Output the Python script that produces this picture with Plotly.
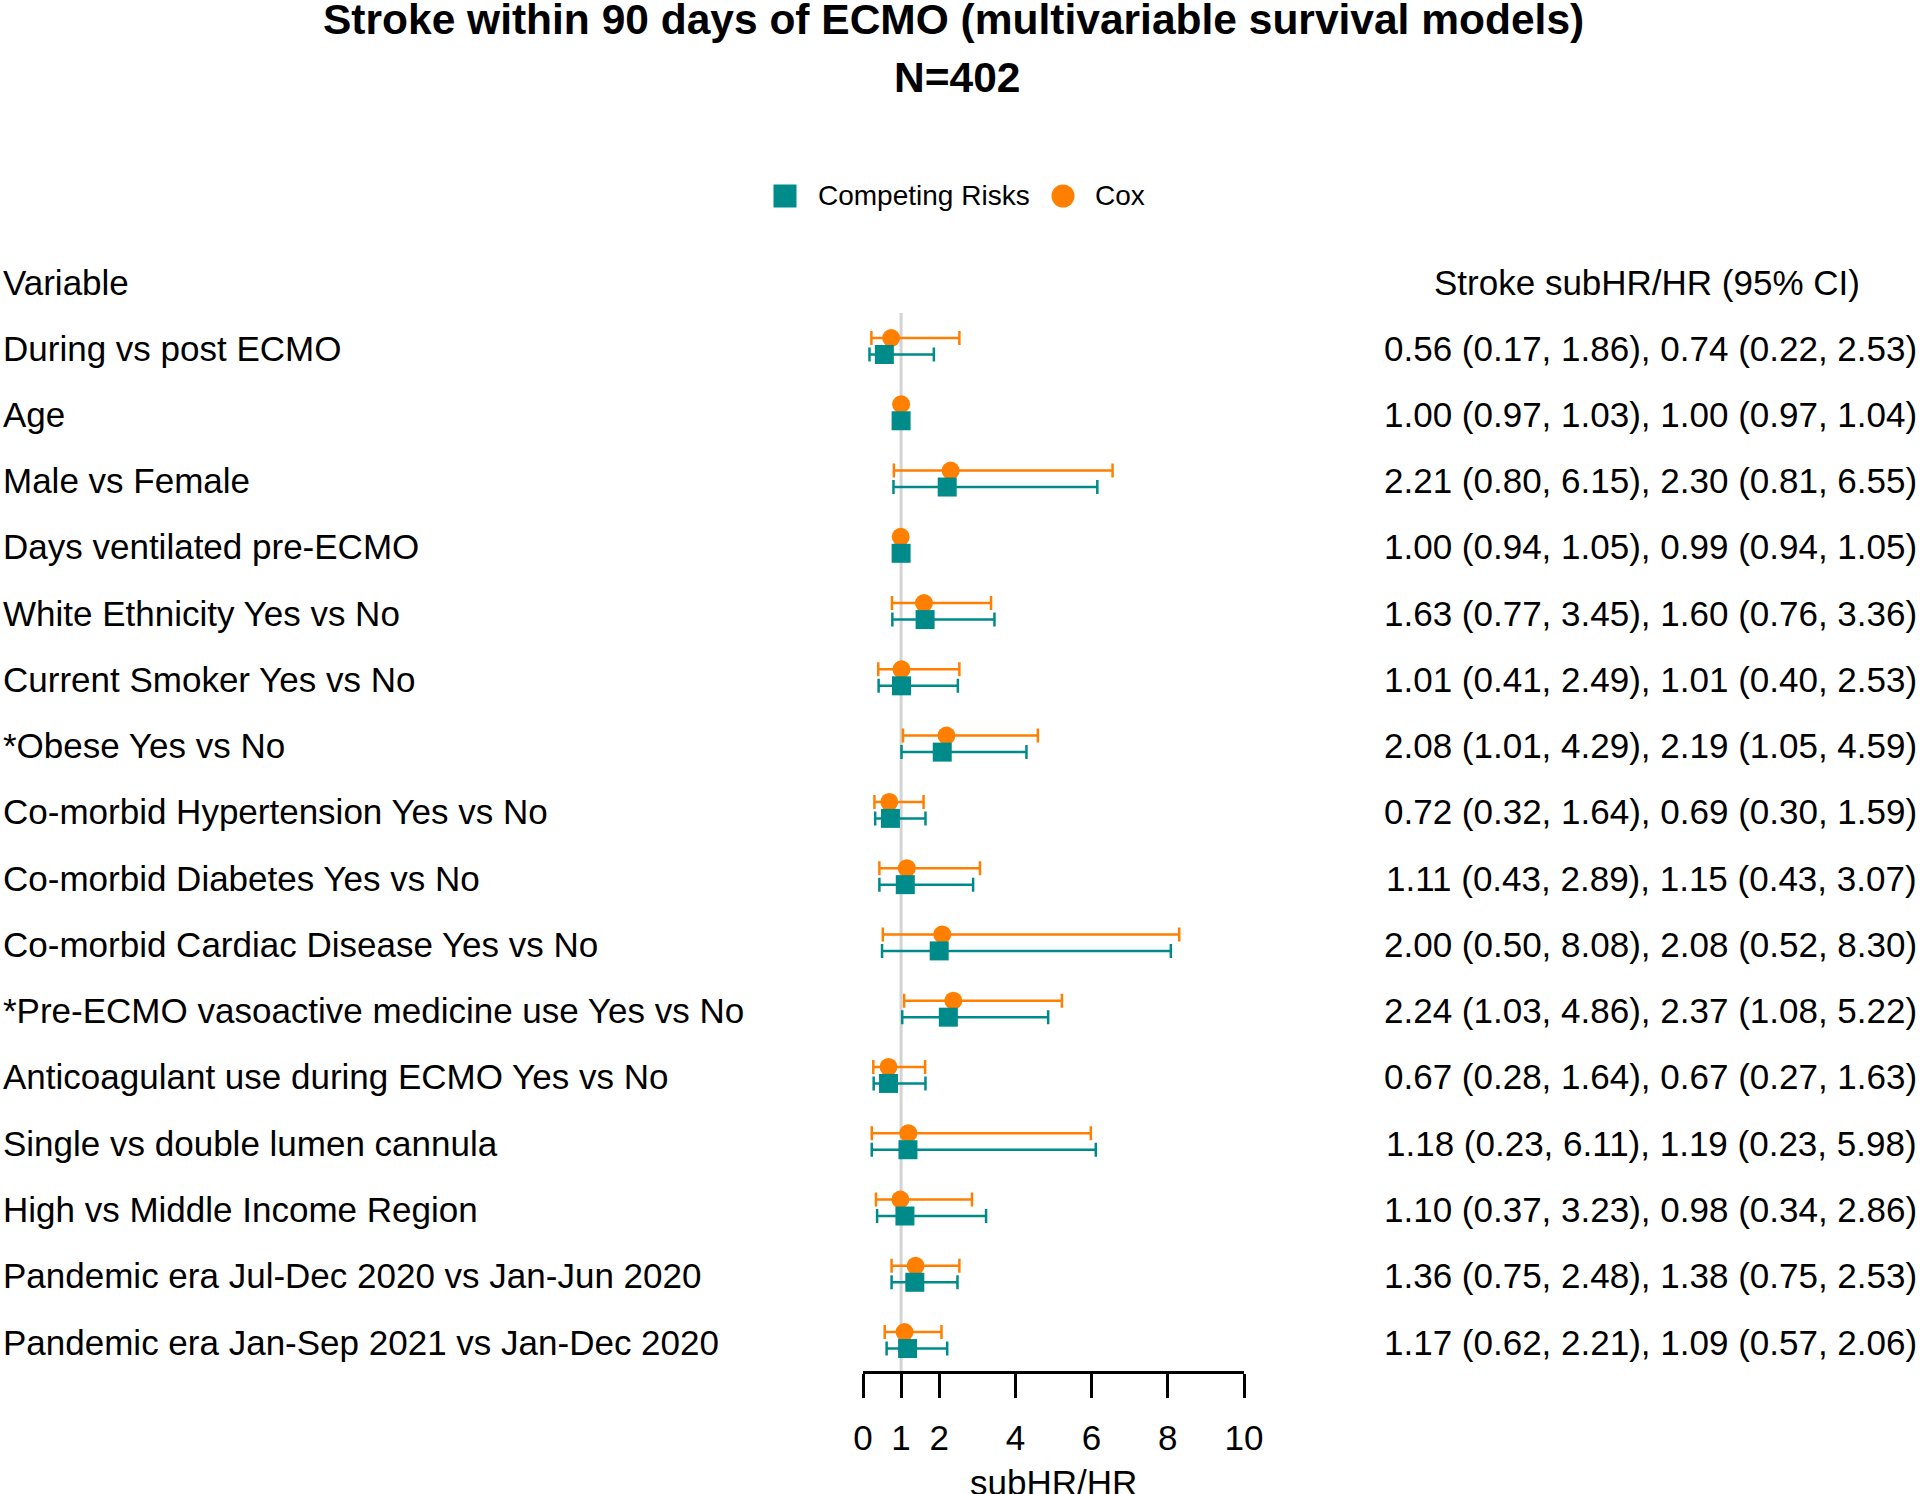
import plotly.graph_objects as go

variables = [
    "During vs post ECMO",
    "Age",
    "Male vs Female",
    "Days ventilated pre-ECMO",
    "White Ethnicity Yes vs No",
    "Current Smoker Yes vs No",
    "*Obese Yes vs No",
    "Co-morbid Hypertension Yes vs No",
    "Co-morbid Diabetes Yes vs No",
    "Co-morbid Cardiac Disease Yes vs No",
    "*Pre-ECMO vasoactive medicine use Yes vs No",
    "Anticoagulant use during ECMO Yes vs No",
    "Single vs double lumen cannula",
    "High vs Middle Income Region",
    "Pandemic era Jul-Dec 2020 vs Jan-Jun 2020",
    "Pandemic era Jan-Sep 2021 vs Jan-Dec 2020",
]

cr_hr = [0.56, 1.00, 2.21, 1.00, 1.63, 1.01, 2.08, 0.72, 1.11, 2.00, 2.24, 0.67, 1.18, 1.10, 1.36, 1.17]
cr_lo = [0.17, 0.97, 0.80, 0.94, 0.77, 0.41, 1.01, 0.32, 0.43, 0.50, 1.03, 0.28, 0.23, 0.37, 0.75, 0.62]
cr_hi = [1.86, 1.03, 6.15, 1.05, 3.45, 2.49, 4.29, 1.64, 2.89, 8.08, 4.86, 1.64, 6.11, 3.23, 2.48, 2.21]

cox_hr = [0.74, 1.00, 2.30, 0.99, 1.60, 1.01, 2.19, 0.69, 1.15, 2.08, 2.37, 0.67, 1.19, 0.98, 1.38, 1.09]
cox_lo = [0.22, 0.97, 0.81, 0.94, 0.76, 0.40, 1.05, 0.30, 0.43, 0.52, 1.08, 0.27, 0.23, 0.34, 0.75, 0.57]
cox_hi = [2.53, 1.04, 6.55, 1.05, 3.36, 2.53, 4.59, 1.59, 3.07, 8.30, 5.22, 1.63, 5.98, 2.86, 2.53, 2.06]

x_ticks = [0, 1, 2, 4, 6, 8, 10]

TEAL = "#008B8B"
ORANGE = "#FF7F00"
FONT = "Liberation Sans, Arial, sans-serif"

W, H = 1920, 1494
# plot area in pixel coordinates
L, R = 863, 1244
T, B = 313, 1371
ROW0, ROWSTEP = 348, 66.27
n = len(variables)


def px(xp):
    return (xp - L) / (R - L)


def py(yp):
    return (B - yp) / (B - T)


rows = list(range(n))
y_cox = [r - 0.151 for r in rows]
y_cr = [r + 0.098 for r in rows]

fig = go.Figure()

fig.add_trace(go.Scatter(
    x=cox_hr, y=y_cox, mode="markers", name="Cox",
    marker=dict(symbol="circle", size=18, color=ORANGE),
    error_x=dict(type="data", symmetric=False,
                 array=[h - m for h, m in zip(cox_hi, cox_hr)],
                 arrayminus=[m - lo for m, lo in zip(cox_hr, cox_lo)],
                 color=ORANGE, thickness=2.5, width=7),
    showlegend=False, cliponaxis=False,
))
fig.add_trace(go.Scatter(
    x=cr_hr, y=y_cr, mode="markers", name="Competing Risks",
    marker=dict(symbol="square", size=19, color=TEAL),
    error_x=dict(type="data", symmetric=False,
                 array=[h - m for h, m in zip(cr_hi, cr_hr)],
                 arrayminus=[m - lo for m, lo in zip(cr_hr, cr_lo)],
                 color=TEAL, thickness=2.5, width=7),
    showlegend=False, cliponaxis=False,
))

shapes = [
    dict(type="line", xref="x", yref="paper", x0=1, x1=1, y0=0, y1=1,
         line=dict(color="#D3D3D3", width=3), layer="below"),
    # manual legend markers
    dict(type="rect", xref="paper", yref="paper",
         x0=px(773.5), x1=px(796.5), y0=py(207.5), y1=py(184.5),
         fillcolor=TEAL, line=dict(width=0)),
    dict(type="circle", xref="paper", yref="paper",
         x0=px(1051.5), x1=px(1074.5), y0=py(207.5), y1=py(184.5),
         fillcolor=ORANGE, line=dict(width=0)),
]

annotations = []
for r, name in enumerate(variables):
    annotations.append(dict(
        text=name, xref="paper", yref="y", x=px(1), y=r,
        xanchor="left", yanchor="middle", showarrow=False,
        font=dict(family=FONT, size=35, color="black")))
    txt = (f"{cr_hr[r]:.2f} ({cr_lo[r]:.2f}, {cr_hi[r]:.2f}), "
           f"{cox_hr[r]:.2f} ({cox_lo[r]:.2f}, {cox_hi[r]:.2f})")
    annotations.append(dict(
        text=txt, xref="paper", yref="y", x=px(1919), y=r,
        xanchor="right", yanchor="middle", showarrow=False,
        font=dict(family=FONT, size=35, color="black")))

annotations += [
    dict(text="Variable", xref="paper", yref="paper", x=px(1), y=py(283),
         xanchor="left", yanchor="middle", showarrow=False,
         font=dict(family=FONT, size=35, color="black")),
    dict(text="Stroke subHR/HR (95% CI)", xref="paper", yref="paper",
         x=px(1647), y=py(283), xanchor="center", yanchor="middle", showarrow=False,
         font=dict(family=FONT, size=35, color="black")),
    dict(text="<b>Stroke within 90 days of ECMO (multivariable survival models)</b>",
         xref="paper", yref="paper", x=px(953), y=py(19),
         xanchor="center", yanchor="middle", showarrow=False,
         font=dict(family=FONT, size=42.5, color="black")),
    dict(text="<b>N=402</b>", xref="paper", yref="paper", x=px(957), y=py(77),
         xanchor="center", yanchor="middle", showarrow=False,
         font=dict(family=FONT, size=42.5, color="black")),
    dict(text="Competing Risks", xref="paper", yref="paper", x=px(816), y=py(196),
         xanchor="left", yanchor="middle", showarrow=False,
         font=dict(family=FONT, size=28, color="black")),
    dict(text="Cox", xref="paper", yref="paper", x=px(1093), y=py(196),
         xanchor="left", yanchor="middle", showarrow=False,
         font=dict(family=FONT, size=28, color="black")),
    # x-axis title
    dict(text="subHR/HR", xref="paper", yref="paper", x=0.5, y=py(1482),
         xanchor="center", yanchor="middle", showarrow=False,
         font=dict(family=FONT, size=35, color="black")),
]

fig.update_layout(
    width=W, height=H, autosize=False,
    margin=dict(l=L, r=W - R, t=T, b=H - B, pad=0, autoexpand=False),
    paper_bgcolor="white", plot_bgcolor="white",
    showlegend=False,
    shapes=shapes, annotations=annotations,
    font=dict(family=FONT, size=35, color="black"),
    xaxis=dict(
        range=[0, 10], tickmode="array", tickvals=x_ticks,
        ticktext=[str(t) for t in x_ticks],
        ticks="outside", ticklen=24, tickwidth=3, tickcolor="black",
        showline=True, linewidth=3, linecolor="black",
        showgrid=False, zeroline=False, automargin=False,
        tickfont=dict(family=FONT, size=35, color="black"),
        ticklabelstandoff=10,
        fixedrange=True,
    ),
    yaxis=dict(range=[(B - ROW0) / ROWSTEP, -(ROW0 - T) / ROWSTEP],
               visible=False, fixedrange=True, automargin=False),
)

fig.write_html(
    "out.html",
    config={"displayModeBar": False},
    post_script="document.body.style.margin='0';document.body.style.overflow='hidden';",
)
